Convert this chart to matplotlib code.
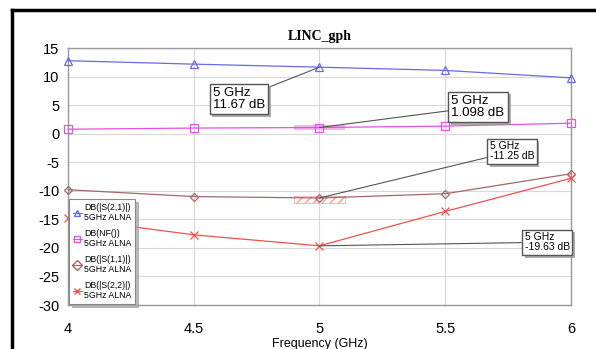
import matplotlib.pyplot as plt
import matplotlib.patheffects as pe
from matplotlib.patches import Rectangle
from matplotlib.lines import Line2D

plt.rcParams['font.family'] = ['Liberation Sans', 'DejaVu Sans']
plt.rcParams['axes.unicode_minus'] = False

freq = [4.0, 4.5, 5.0, 5.5, 6.0]
s21 = [12.8, 12.2, 11.67, 11.1, 9.8]
nf = [0.8, 1.0, 1.098, 1.35, 1.85]
s11 = [-9.8, -11.0, -11.25, -10.5, -7.0]
s22 = [-14.8, -17.7, -19.63, -13.6, -7.8]

labels = ['DB(|S(2,1)|)\n5GHz ALNA', 'DB(NF())\n5GHz ALNA',
          'DB(|S(1,1)|)\n5GHz ALNA', 'DB(|S(2,2)|)\n5GHz ALNA']
colors = ['#6a6ae6', '#e650e6', '#a06a6a', '#f05050']
markers = ['^', 's', 'D', 'x']

# marker readouts at 5 GHz: (text, text x, text y, point y, font size)
notes = [('5 GHz\n11.67 dB', 4.68, 6.1, s21[2], 9.5),
         ('5 GHz\n1.098 dB', 5.63, 4.7, nf[2], 9.5),
         ('5 GHz\n-11.25 dB', 5.765, -3.1, s11[2], 7.5),
         ('5 GHz\n-19.63 dB', 5.905, -19.0, s22[2], 7.5)]

fig = plt.figure(figsize=(5.96, 3.49), dpi=100)
ax = fig.add_axes([0.114, 0.126, 0.844, 0.736])

series = [s21, nf, s11, s22]
for vals, c, m in zip(series, colors, markers):
    ax.plot(freq, vals, color=c, lw=0.9, marker=m, ms=6 if m != 'D' else 4.5,
            mfc='none', mec=c, mew=0.9, clip_on=False, zorder=3)

# highlight boxes around the 5 GHz markers
ax.add_patch(Rectangle((4.9, nf[2] - 0.5), 0.2, 1.0, facecolor='#f080f0',
                       edgecolor='none', alpha=0.6, zorder=2))
ax.add_patch(Rectangle((4.9, s11[2] - 0.9), 0.2, 1.2, facecolor='none',
                       edgecolor='#f0a0a0', hatch='////', lw=0.5, zorder=2))

for txt, tx, ty, py, fs in notes:
    t = ax.annotate(txt, xy=(5.0, py), xytext=(tx, ty), fontsize=fs, ha='center',
                    va='center', multialignment='left', linespacing=1.0,
                    annotation_clip=False,
                    bbox=dict(boxstyle='square,pad=0.25', fc='white', ec='#555555', lw=1.0),
                    arrowprops=dict(arrowstyle='-', color='#555555', lw=0.8,
                                    shrinkA=0, shrinkB=0), zorder=5)
    t.get_bbox_patch().set_path_effects([pe.SimplePatchShadow(offset=(2, -2), shadow_rgbFace='#999999', alpha=0.8),
                                         pe.Normal()])

ax.set_xlim(4, 6)
ax.set_ylim(-30, 15)
ax.set_xticks(freq)
ax.set_xticklabels(['4', '4.5', '5', '5.5', '6'])
ax.set_yticks(range(-30, 16, 5))
ax.grid(True, color='#d8d8d8', lw=0.8)
ax.tick_params(length=0, labelsize=10.5, pad=6)
ax.tick_params(axis='x', pad=12)
for sp in ax.spines.values():
    sp.set_color('#999999')
    sp.set_linewidth(1.0)

ax.set_title('LINC_gph', family='Liberation Serif', fontweight='bold', fontsize=10, pad=6)
ax.set_xlabel('Frequency (GHz)', fontsize=9, labelpad=2)

handles = [Line2D([], [], color=c, marker=m, mfc='none', mec=c, lw=0.8, ms=5)
           for c, m in zip(colors, markers)]
leg = ax.legend(handles, labels, loc='lower left', fontsize=6.3, handlelength=1.0,
                handletextpad=0.3, labelspacing=0.75, borderpad=0.45,
                borderaxespad=0.1, fancybox=False, framealpha=1, edgecolor='#888888',
                shadow={'color': '#aaaaaa', 'alpha': 0.8})
leg.get_frame().set_linewidth(0.8)

# outer black frame
fig.add_artist(Line2D([0.02, 1.0], [0.971, 0.971], color='black', lw=2.5))
fig.add_artist(Line2D([0.02, 0.02], [0.0, 0.971], color='black', lw=2.5))

fig.savefig('out.png', dpi=100)
